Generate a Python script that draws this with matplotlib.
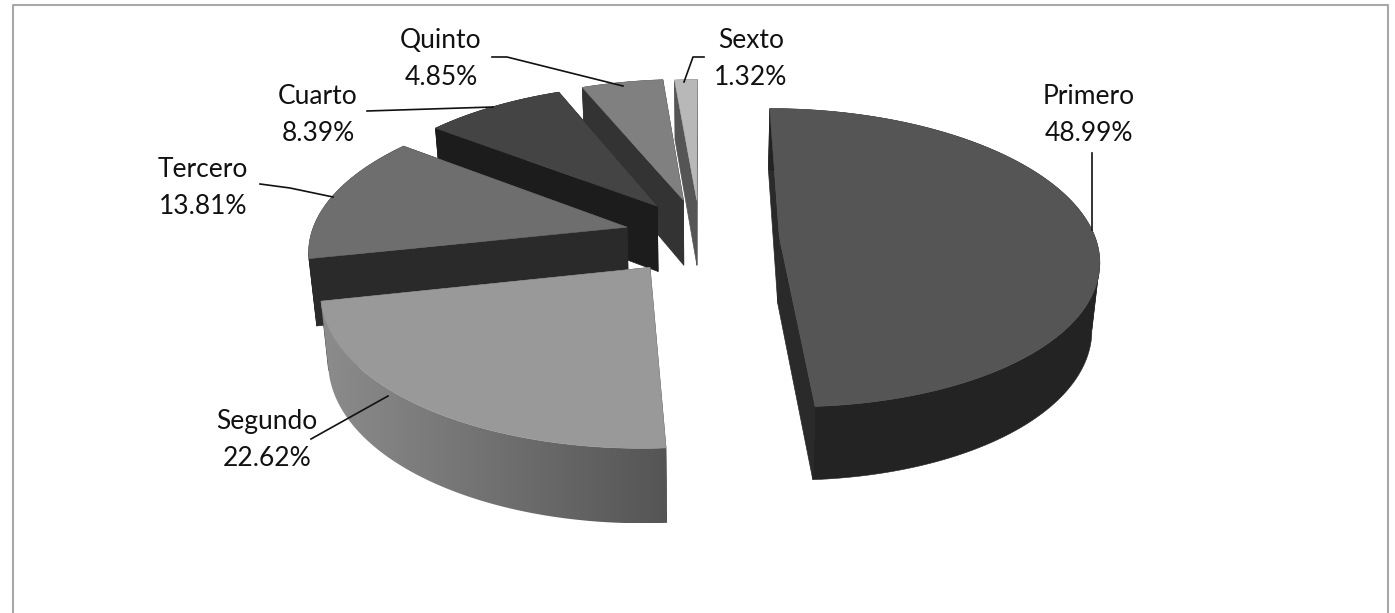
import numpy as np
import matplotlib
matplotlib.use("Agg")
import matplotlib.pyplot as plt
from matplotlib.patches import Polygon

categories = ["Primero", "Segundo", "Tercero", "Cuarto", "Quinto", "Sexto"]
values = [48.99, 22.62, 13.81, 8.39, 4.85, 1.32]
value_labels = ["48.99%", "22.62%", "13.81%", "8.39%", "4.85%", "1.32%"]

top_colors = ["#555555", "#999999", "#6e6e6e", "#444444", "#808080", "#b8b8b8"]
wall_colors = ["#2a2a2a", "#444444", "#2a2a2a", "#1c1c1c", "#333333", "#555555"]
rim_left = ["#232323", "#8c8c8c", "#2a2a2a", "#1c1c1c", "#333333", "#555555"]
rim_right = ["#232323", "#555555", "#2a2a2a", "#1c1c1c", "#333333", "#555555"]
nudges = [(1, 1), (-3, 1), (1, -2), (2, -3), (0, -3), (-1, -2)]

W, H = 1395, 613
CX, CY, RX, RY, K, EXPLODE = 701.0, 237.0, 316.0, 146.5, 0.14, 0.245

fig = plt.figure(figsize=(W / 100, H / 100), dpi=100)
ax = fig.add_axes([0, 0, 1, 1])
ax.set_xlim(0, W)
ax.set_ylim(H, 0)
ax.axis("off")


def project(X, Y):
    s = 1.0 / (1.0 + K * Y)
    return CX + RX * X * s, CY - RY * Y * s


def drop(x, y):
    h = 65 + 0.04 * (y - 200)
    return x + (CX - x) * 0.02, y + h


fractions = np.array(values) / 100.0
starts = np.concatenate([[0], np.cumsum(fractions)[:-1]]) * 2 * np.pi
ends = np.cumsum(fractions) * 2 * np.pi
ends[-1] = 2 * np.pi

for i in reversed(range(len(values))):
    a0, a1 = starts[i], ends[i]
    mid = (a0 + a1) / 2
    ex, ey = EXPLODE * np.sin(mid), EXPLODE * np.cos(mid)
    th = np.linspace(a0, a1, 160)
    ox, oy = project(ex + np.sin(th), ey + np.cos(th))
    px, py = project(ex, ey)
    nx, ny = nudges[i]
    ox, oy, px, py = ox + nx, oy + ny, px + nx, py + ny
    bx, by = drop(ox, oy)
    abx, aby = drop(px, py)
    z = 2 + (len(values) - i) * 3
    # radial walls
    for k in (0, -1):
        ax.add_patch(Polygon([(px, py), (ox[k], oy[k]), (bx[k], by[k]), (abx, aby)],
                             closed=True, fc=wall_colors[i], ec=wall_colors[i], lw=0.5, zorder=z))
    # outer rim: one polygon per stretch of the arc on which x runs one way
    cuts = sorted({0, int(np.argmax(ox)), int(np.argmin(ox)), len(th) - 1})
    full = (min(ox.min(), bx.min()), max(ox.max(), bx.max()))
    for c0, c1 in zip(cuts[:-1], cuts[1:]):
        s = slice(c0, c1 + 1)
        rim_xy = np.vstack([np.column_stack([ox[s], oy[s]]), np.column_stack([bx[s], by[s]])[::-1]])
        if rim_left[i] == rim_right[i]:
            ax.add_patch(Polygon(rim_xy, closed=True, fc=rim_left[i], ec=rim_left[i], lw=0.4, zorder=z + 1))
        else:
            clip = Polygon(rim_xy, closed=True, fc="none", ec="none", zorder=z + 1)
            ax.add_patch(clip)
            cmap = matplotlib.colors.LinearSegmentedColormap.from_list("rim", [rim_left[i], rim_right[i]])
            im = ax.imshow(np.linspace(0, 1, 256)[None, :], cmap=cmap, aspect="auto", zorder=z + 1,
                           extent=(full[0], full[1], by.max(), oy.min()))
            im.set_clip_path(clip)
            ax.set_xlim(0, W)
            ax.set_ylim(H, 0)
    # top face
    ax.add_patch(Polygon(np.vstack([[px, py], np.column_stack([ox, oy])]),
                         closed=True, fc=top_colors[i], ec=top_colors[i], lw=0.4, zorder=z + 2))

# chart frame
ax.plot([12.5, 12.5, 1388, 1388], [613, 5, 5, 613], color="#a8a8a8", lw=1.5, zorder=1)

# leader lines
leaders = {
    "Primero": ([1092, 1092], [153, 230]),
    "Segundo": ([311, 388], [439, 396]),
    "Tercero": ([260, 290, 333], [184, 188, 197]),
    "Cuarto": ([367, 493], [111, 107]),
    "Quinto": ([492, 507, 623], [57, 57, 86]),
    "Sexto": ([704, 693, 684], [57, 57, 82]),
}
for name, (lx, ly) in leaders.items():
    ax.plot(lx, ly, color="#111111", lw=1.2, zorder=40)

positions = {
    "Primero": (1089, 115),
    "Segundo": (267, 440),
    "Tercero": (203, 188),
    "Cuarto": (318, 115),
    "Quinto": (441, 59),
    "Sexto": (751, 59),
}
for name, lab in zip(categories, value_labels):
    x, y = positions[name]
    ax.text(x, y, f"{name}\n{lab}", ha="center", va="center", fontsize=19,
            family=["Lato", "DejaVu Sans"], color="#111111", linespacing=1.62, zorder=50)

fig.savefig("out.png", dpi=100, facecolor="white")
